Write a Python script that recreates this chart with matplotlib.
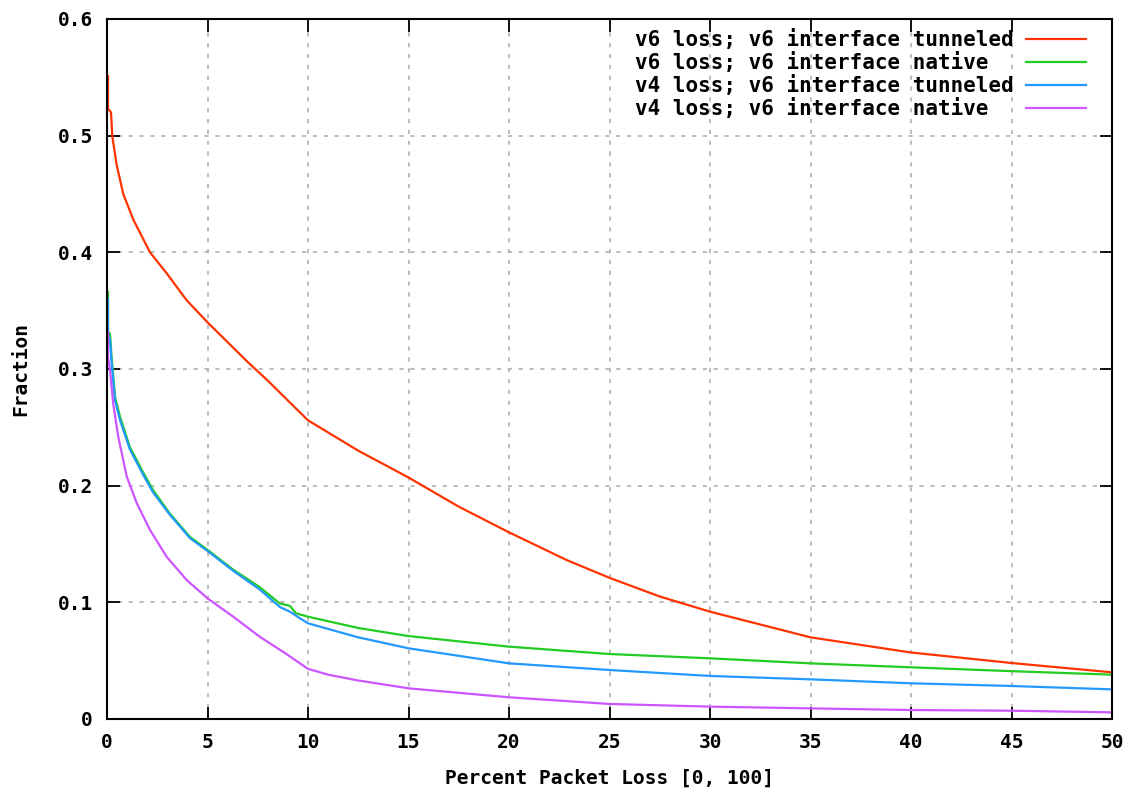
import matplotlib
matplotlib.use("Agg")
import matplotlib.pyplot as plt

# (x = percent packet loss, y = fraction)
v6_tun_x = [0.05, 0.05, 0.2, 0.26, 0.48, 0.81, 1.31, 2.14, 2.97, 3.96, 5.0, 6.0, 7.0,
            7.5, 8.0, 9.0, 10, 12.5, 15, 17.5, 20, 22.9, 25, 27.5, 30, 35, 40, 45, 50]
v6_tun_y = [0.551, 0.523, 0.52, 0.50, 0.475, 0.45, 0.428, 0.40, 0.382, 0.359, 0.34,
            0.323, 0.306, 0.298, 0.290, 0.273, 0.256, 0.23, 0.207, 0.182, 0.160,
            0.136, 0.121, 0.105, 0.092, 0.070, 0.057, 0.048, 0.040]

v6_nat_x = [0.05, 0.05, 0.15, 0.23, 0.4, 0.65, 1.14, 1.81, 2.3, 3.13, 4.13, 5.0, 6.28,
            7.6, 8.6, 9.1, 9.4, 10, 12.5, 15, 20, 25, 30, 35, 40, 45, 50]
v6_nat_y = [0.366, 0.332, 0.33, 0.31, 0.276, 0.259, 0.233, 0.211, 0.196, 0.176,
            0.156, 0.145, 0.128, 0.113, 0.099, 0.097, 0.0906, 0.0877, 0.078, 0.0711,
            0.062, 0.0557, 0.052, 0.0477, 0.0443, 0.041, 0.038]

v4_tun_x = [0.05, 0.05, 0.15, 0.23, 0.4, 0.65, 1.14, 1.81, 2.3, 3.13, 4.13, 5.0, 6.28,
            7.6, 8.6, 9.1, 9.6, 10, 12.5, 15, 20, 25, 30, 35, 40, 45, 50]
v4_tun_y = [0.36, 0.33, 0.325, 0.305, 0.273, 0.256, 0.231, 0.209, 0.194, 0.175,
            0.155, 0.144, 0.127, 0.111, 0.096, 0.092, 0.0863, 0.082, 0.070, 0.0606,
            0.0477, 0.042, 0.0369, 0.034, 0.0306, 0.0283, 0.0254]

v4_nat_x = [0.05, 0.05, 0.15, 0.31, 0.56, 0.98, 1.48, 2.14, 2.97, 3.97, 5.0, 6.28, 7.6,
            8.9, 9.6, 10, 11, 12.5, 15, 20, 25, 30, 35, 40, 45, 50]
v4_nat_y = [0.332, 0.31, 0.299, 0.27, 0.242, 0.208, 0.185, 0.162, 0.139, 0.119,
            0.1034, 0.0877, 0.0705, 0.056, 0.0477, 0.043, 0.038, 0.033, 0.0263,
            0.0186, 0.0129, 0.0106, 0.0091, 0.0077, 0.0071, 0.0057]

labels = ["v6 loss; v6 interface tunneled", "v6 loss; v6 interface native",
          "v4 loss; v6 interface tunneled", "v4 loss; v6 interface native"]
colors = ["#ff3300", "#22cc22", "#2299ff", "#cc55ff"]
xs_all = [v6_tun_x, v6_nat_x, v4_tun_x, v4_nat_x]
ys_all = [v6_tun_y, v6_nat_y, v4_tun_y, v4_nat_y]

xticks = [0, 5, 10, 15, 20, 25, 30, 35, 40, 45, 50]
yticks = [0, 0.1, 0.2, 0.3, 0.4, 0.5, 0.6]
ytick_labels = ["0", "0.1", "0.2", "0.3", "0.4", "0.5", "0.6"]

plt.rcParams["font.family"] = "DejaVu Sans Mono"
plt.rcParams["font.weight"] = "bold"

fig = plt.figure(figsize=(11.38, 7.90), dpi=100)
ax = fig.add_axes([107 / 1138, 71 / 790, 1005 / 1138, 700 / 790])

width = max(len(s) for s in labels)
for xs, ys, label, color in zip(xs_all, ys_all, labels, colors):
    # pad so the monospace labels stay left-aligned with the sample on the right
    ax.plot(xs, ys, color=color, lw=1.6, label=label.ljust(width))

ax.set_xlim(0, 50)
ax.set_ylim(0, 0.6)
ax.set_xticks(xticks)
ax.set_xticklabels([str(t) for t in xticks])
ax.set_yticks(yticks)
ax.set_yticklabels(ytick_labels)
ax.tick_params(direction="in", length=9, width=1.3, top=True, right=True,
               labelsize=14, pad=10)
ax.grid(True, color="#b0b0b0", linestyle=(0, (2.5, 4)), lw=1.2)
for sp in ax.spines.values():
    sp.set_linewidth(1.5)

ax.set_xlabel("Percent Packet Loss [0, 100]", fontsize=14, fontweight="bold", labelpad=12)
ax.set_ylabel("Fraction", fontsize=14, fontweight="bold", labelpad=20)

leg = ax.legend(loc="upper right", bbox_to_anchor=((1087 + 5 - 107) / 1005, 1 - 4 / 700),
                markerfirst=False, frameon=False,
                handlelength=2.85, labelspacing=0.1, borderaxespad=0.0, borderpad=0.3,
                handletextpad=0.6, prop={"weight": "bold", "size": 15,
                                         "family": "DejaVu Sans Mono"})

fig.savefig("out.png", dpi=100)
